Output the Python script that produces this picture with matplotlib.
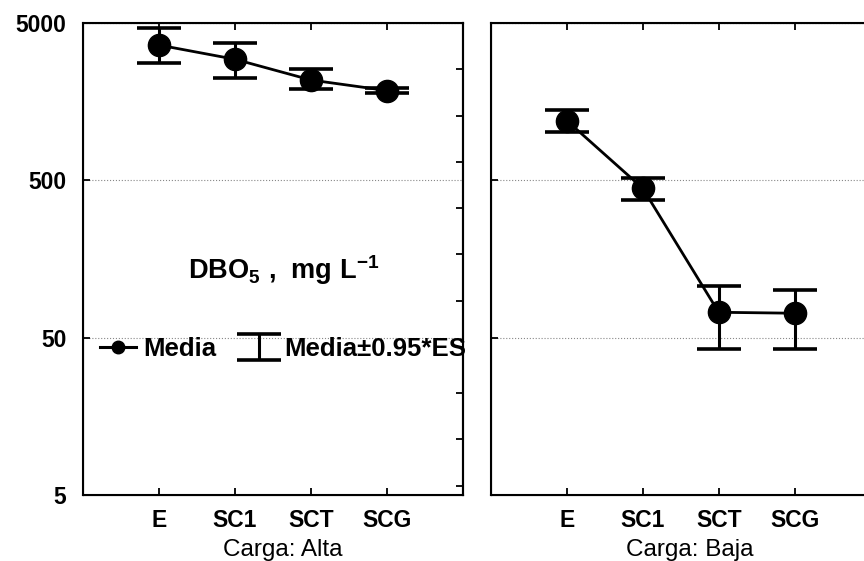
import matplotlib
matplotlib.use("Agg")
import matplotlib.pyplot as plt
import numpy as np

plt.rcParams["font.family"] = ["Liberation Sans", "DejaVu Sans"]
plt.rcParams["mathtext.fontset"] = "custom"
plt.rcParams["mathtext.rm"] = "Liberation Sans:bold"
plt.rcParams["mathtext.bf"] = "Liberation Sans:bold"

categories = ["E", "SC1", "SCT", "SCG"]
panels = ["Carga: Alta", "Carga: Baja"]

# mean and +/- 0.95*ES bounds, mg/L
alta_mean = [3620, 2940, 2170, 1860]
alta_low = [2770, 2220, 1900, 1800]
alta_high = [4670, 3720, 2550, 1930]

baja_mean = [1200, 445, 72.5, 71.5]
baja_low = [1020, 375, 42.2, 42.2]
baja_high = [1400, 515, 107, 100.5]

yticks = [5, 50, 500, 5000]

W, H = 864, 561
fig = plt.figure(figsize=(W / 100, H / 100), dpi=100)
bottom = (H - 495) / H
height = 472 / H
ax1 = fig.add_axes([83 / W, bottom, 380 / W, height])
ax2 = fig.add_axes([490.7 / W, bottom, 380 / W, height])

x = np.arange(1, len(categories) + 1)
fs = 16.5

for ax, mean, low, high, label in [
    (ax1, alta_mean, alta_low, alta_high, panels[0]),
    (ax2, baja_mean, baja_low, baja_high, panels[1]),
]:
    mean = np.array(mean)
    yerr = [mean - np.array(low), np.array(high) - mean]
    eb = ax.errorbar(x, mean, yerr=yerr, fmt="none", ecolor="black",
                     elinewidth=2.2, capsize=15.5, capthick=2.6, zorder=3)
    ln, = ax.plot(x, mean, "-o", color="black", lw=2.0, ms=16, zorder=4)
    ax.set_yscale("log")
    ax.set_ylim(5, 5000)
    ax.set_xlim(0, 5)
    ax.set_yticks(yticks)
    ax.yaxis.set_minor_locator(matplotlib.ticker.NullLocator())
    ax.set_xticks(x)
    ax.set_xticklabels(categories, fontsize=fs, fontweight="bold")
    ax.tick_params(axis="both", direction="in", length=5, width=1.3,
                   top=True, right=False, pad=10)
    ax.tick_params(axis="y", pad=12)
    ax.yaxis.grid(True, linestyle=":", color="#888888", lw=0.8)
    ax.set_xlabel(label, fontsize=17.5)
    ax.xaxis.set_label_coords(0.525, -0.093)
    for sp in ax.spines.values():
        sp.set_linewidth(1.5)
    # right-side inward ticks (equal spacing)
    tw = ax.twinx()
    tw.set_ylim(0, 1)
    tw.set_yticks([1 - 0.098 * k for k in range(1, 11)])
    tw.set_yticklabels([])
    tw.tick_params(axis="y", direction="in", length=5, width=1.3)
    tw.spines["right"].set_linewidth(1.5)
    if ax is ax1:
        ax.set_yticklabels([str(t) for t in yticks], fontsize=fs, fontweight="bold")
        legend_handles = [ln, eb]
    else:
        ax.set_yticklabels([])

leg_line = matplotlib.lines.Line2D([], [], color="black", marker="o", ms=9, lw=2.2)
ax1.legend([leg_line, legend_handles[1]], ["Media", "Media\u00b10.95*ES"],
           loc="center left", bbox_to_anchor=(0.0, 0.31), ncol=2, frameon=False,
           prop={"size": 18.5, "weight": "bold"}, handlelength=1.4,
           handletextpad=0.3, columnspacing=0.95, borderaxespad=0.25)

ax1.text(0.53, 0.477, r"$\mathbf{DBO_5\ ,\ mg\ L^{-1}}$", transform=ax1.transAxes,
         ha="center", va="center", fontsize=19.5)

fig.savefig("out.png", dpi=100)
